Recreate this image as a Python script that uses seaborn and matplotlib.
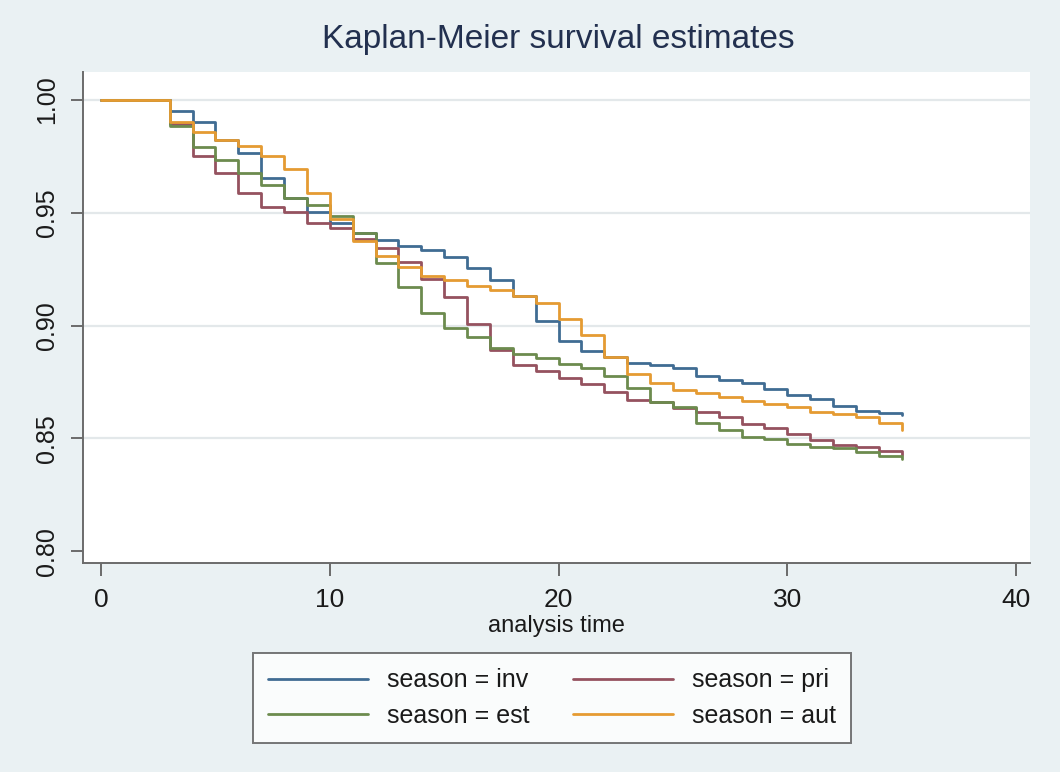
import numpy as np
import pandas as pd
import matplotlib
matplotlib.use("Agg")
import matplotlib.pyplot as plt
import seaborn as sns
from matplotlib.lines import Line2D

# Kaplan-Meier step estimates by season (value holds from each time to the next)
times = [0, 3, 4, 5, 6, 7, 8, 9, 10, 11, 12, 13, 14, 15, 16, 17, 18, 19,
         20, 21, 22, 23, 24, 25, 26, 27, 28, 29, 30, 31, 32, 33, 34, 35]

surv_inv = [1.0, 0.9953, 0.9904, 0.9823, 0.9766, 0.9653, 0.9567, 0.9505,
            0.9455, 0.9409, 0.9379, 0.9353, 0.9335, 0.9306, 0.9254, 0.9204,
            0.9133, 0.9020, 0.8933, 0.8888, 0.8859, 0.8832, 0.8823, 0.8810,
            0.8776, 0.8758, 0.8746, 0.8720, 0.8692, 0.8673, 0.8645, 0.8622,
            0.8613, 0.8603]
surv_pri = [1.0, 0.9893, 0.9752, 0.9675, 0.9589, 0.9525, 0.9505, 0.9456,
            0.9431, 0.9385, 0.9342, 0.9283, 0.9205, 0.9125, 0.9007, 0.8890,
            0.8825, 0.8800, 0.8766, 0.8741, 0.8707, 0.8672, 0.8661, 0.8635,
            0.8618, 0.8596, 0.8563, 0.8544, 0.8519, 0.8492, 0.8470, 0.8463,
            0.8445, 0.8428]
surv_est = [1.0, 0.9884, 0.9790, 0.9732, 0.9675, 0.9621, 0.9567, 0.9534,
            0.9486, 0.9409, 0.9276, 0.9169, 0.9057, 0.8990, 0.8950, 0.8902,
            0.8874, 0.8854, 0.8829, 0.8810, 0.8776, 0.8721, 0.8661, 0.8637,
            0.8569, 0.8537, 0.8507, 0.8495, 0.8474, 0.8463, 0.8455, 0.8440,
            0.8421, 0.8408]
surv_aut = [1.0, 0.9902, 0.9858, 0.9823, 0.9798, 0.9752, 0.9693, 0.9588,
            0.9471, 0.9376, 0.9308, 0.9258, 0.9219, 0.9202, 0.9175, 0.9158,
            0.9133, 0.9098, 0.9027, 0.8958, 0.8859, 0.8786, 0.8746, 0.8714,
            0.8702, 0.8682, 0.8667, 0.8652, 0.8637, 0.8618, 0.8608, 0.8596,
            0.8569, 0.8537]

seasons = ["inv", "pri", "est", "aut"]
legend_labels = ["season = inv", "season = pri", "season = est", "season = aut"]
x_ticks = [0, 10, 20, 30, 40]
y_ticks = [0.80, 0.85, 0.90, 0.95, 1.00]
y_tick_labels = ["0.80", "0.85", "0.90", "0.95", "1.00"]

colors = {"inv": "#406c93", "pri": "#95525f", "est": "#6c8b4e", "aut": "#e59b32"}

series = {"inv": surv_inv, "pri": surv_pri, "est": surv_est, "aut": surv_aut}
df = pd.concat(
    [pd.DataFrame({"time": times, "survival": series[s], "season": s}) for s in seasons],
    ignore_index=True,
)

sns.set_theme(style="white")
plt.rcParams["font.family"] = ["Liberation Sans", "DejaVu Sans"]

bg = "#eaf1f3"
fig = plt.figure(figsize=(10.6, 7.72), dpi=100, facecolor=bg)
ax = fig.add_axes([0.0783, 0.2707, 0.8934, 0.636])
ax.set_facecolor("white")

sns.lineplot(data=df, x="time", y="survival", hue="season", hue_order=seasons,
             palette=colors, estimator=None, sort=False, drawstyle="steps-post",
             linewidth=2.0, legend=False, ax=ax, zorder=3)

ax.set_xlim(-0.79, 40.61)
ax.set_ylim(0.7947, 1.0124)
ax.set_xticks(x_ticks)
ax.set_xticklabels([str(t) for t in x_ticks])
ax.set_yticks(y_ticks)
ax.set_yticklabels(y_tick_labels, rotation=90, va="center")

for yv in y_ticks[1:]:
    ax.axhline(yv, color="#e3e8ea", linewidth=1.6, zorder=1)

for side in ["top", "right"]:
    ax.spines[side].set_visible(False)
for side in ["left", "bottom"]:
    ax.spines[side].set_color("#6b6b6b")
    ax.spines[side].set_linewidth(1.4)

ax.tick_params(axis="both", which="major", direction="out", length=9, width=1.4,
               color="#6b6b6b", labelcolor="#1a1a1a", bottom=True, left=True)
ax.tick_params(axis="x", labelsize=19, pad=9)
ax.tick_params(axis="y", labelsize=18, pad=8)

ax.set_xlabel("analysis time", fontsize=17, color="#1a1a1a", labelpad=2)
ax.set_ylabel("")

fig.text(0.527, 0.949, "Kaplan-Meier survival estimates", ha="center", va="center",
         fontsize=24, color="#22304f")

order = ["inv", "est", "pri", "aut"]
handles = [Line2D([0], [0], color=colors[s], linewidth=2.0) for s in order]
labels = [legend_labels[seasons.index(s)] for s in order]
leg = fig.legend(handles, labels, loc="center", ncol=2,
                 bbox_to_anchor=(0.521, 0.096), fontsize=18, frameon=True,
                 fancybox=False, edgecolor="#555555", facecolor="white",
                 handlelength=4.0, handletextpad=0.75, columnspacing=1.75,
                 borderpad=0.6, labelspacing=0.45, borderaxespad=0)
leg.get_frame().set_linewidth(1.4)
for t in leg.get_texts():
    t.set_color("#1a1a1a")

fig.savefig("out.png", dpi=100, facecolor=bg)
